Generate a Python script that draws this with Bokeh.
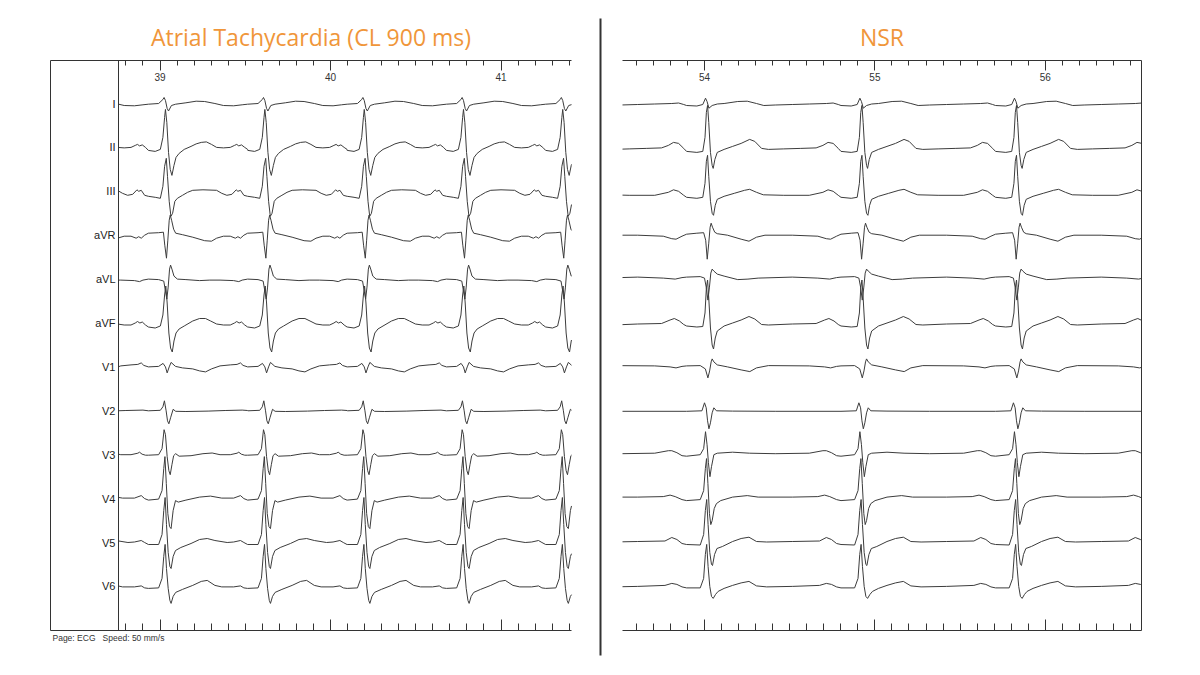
import numpy as np
from bokeh.plotting import figure
from bokeh.models import Range1d, LinearAxis, FixedTicker, Label
from bokeh.embed import file_html
from bokeh.resources import INLINE

# ---------------- data ----------------
leads = ["I", "II", "III", "aVR", "aVL", "aVF", "V1", "V2", "V3", "V4", "V5", "V6"]

# R-peak times (s) (first one precedes the visible window)
at_beats = [38.450, 39.032, 39.615, 40.198, 40.780, 41.362]
nsr_beats = [53.108, 54.015, 54.921, 55.828]

at_tick_labels = [39, 40, 41]
nsr_tick_labels = [54, 55, 56]

# beat templates: (ms from R peak, amplitude in reference pixels, up = positive)
AT_I = [(-100, -0.7), (-40, 0), (-15, 4), (-8, 6), (0, 3), (10, -5), (18, -7.5), (35, -2), (60, -0.7),
        (120, 0.7), (180, 2.3), (230, 2), (290, 0), (340, -2), (400, -2.3), (450, -1.3), (482, -0.7)]
AT_II = [(-100, -3), (-60, -4), (-30, -2), (-15, 10), (-5, 30), (0, 38), (8, 25), (18, -5), (28, -22),
         (38, -28), (50, -18), (62, -10), (80, -6), (110, -2), (150, 1), (180, 3.5), (210, 5), (240, 5.5),
         (270, 3), (300, 0), (340, -0.5), (380, 0), (405, 2), (418, 3), (430, 1.5), (446, 2.5), (465, 0),
         (482, -2)]
AT_III = [(-100, -5), (-60, -6), (-30, -7), (-15, 5), (-5, 25), (5, 33), (12, 15), (22, -10), (32, -25),
          (42, -22), (55, -10), (70, -7), (100, -4), (130, -1), (160, 1), (220, 1.5), (300, 1), (330, -2),
          (360, -4), (390, -3), (415, 1.5), (425, 0), (440, 1), (460, -4), (482, -5)]
AT_aVR = [(-100, 2), (-40, 2.5), (-12, 3), (-4, -10), (6, -23), (14, -5), (22, 15), (28, 20), (36, 15),
          (48, 6), (60, 2), (100, 0.5), (160, -2), (230, -5.5), (270, -6), (300, -3), (340, -1), (380, -1),
          (410, -3), (425, -1.5), (440, -3), (460, 0), (482, 2)]
AT_aVL = [(-100, 0), (-40, -0.5), (-10, -2), (0, -12), (8, -20), (16, -8), (24, 10), (30, 14), (38, 10),
          (50, 3), (70, 0), (120, -0.5), (200, -1.5), (260, -1), (320, -1), (400, -1.5), (430, -2.5),
          (450, -1), (482, 0)]
AT_aVF = [(-100, -4), (-60, -5), (-30, -3), (-15, 8), (-5, 28), (2, 37), (10, 20), (20, -10), (30, -25),
          (40, -29), (50, -18), (62, -10), (80, -6), (110, -3), (160, 2), (200, 4.5), (235, 4.5), (265, 2),
          (300, -1), (340, -2), (380, -2), (405, 0), (418, 1.5), (432, 0), (446, 1), (465, -2), (482, -4)]
AT_V1 = [(-100, 0), (-40, 0.5), (-14, 3.5), (0, 0), (10, -6), (22, 0), (33, 4.5), (59, 0.5), (100, -1),
         (160, -2), (200, -4), (235, -5), (270, -2), (320, 1), (380, 2), (420, 2.5), (440, 4), (455, 1.5),
         (482, 0)]
AT_V2 = [(-100, 0), (-30, 0.5), (-15, 4), (-6, 10), (4, 0), (12, -10), (20, -13), (30, -7), (45, 1.5),
         (60, -0.5), (120, -0.7), (250, -0.3), (350, 0.3), (450, 0.7), (482, 0.3)]
AT_V3 = [(-100, -0.5), (-40, 0), (-20, 6), (-8, 25), (0, 20), (10, -2), (20, -16), (28, -20), (38, -10),
         (48, -1), (60, 1), (80, -1.5), (150, -1), (220, 1), (274, 1.7), (320, 0), (380, 0), (420, 1.5),
         (430, 2.5), (445, 0.5), (465, -0.5), (482, -0.5)]
AT_V4 = [(-100, -1.5), (-40, -0.5), (-20, 8), (-10, 30), (-3, 42), (5, 15), (14, -15), (24, -28), (33, -30),
         (45, -12), (59, -2), (75, -3.5), (120, -1.5), (200, 1.5), (264, 2.5), (330, 0.5), (400, 0.5),
         (440, 3), (460, 0), (482, -1.5)]
AT_V5 = [(-100, -2), (-40, -2), (-20, 8), (-10, 32), (-2, 45), (6, 18), (16, -10), (26, -24), (33, -26),
         (45, -14), (59, -8), (90, -5), (150, -1), (200, 3), (245, 4), (290, 2), (362, 0), (400, 0.5),
         (440, 2), (460, 0), (482, -2)]
AT_V6 = [(-100, -2), (-40, -1.5), (-20, 8), (-10, 30), (-2, 42), (6, 18), (16, -2), (26, -14), (33, -17),
         (45, -10), (60, -6), (100, -3), (160, 1), (210, 5), (245, 6), (290, 1), (330, -0.5), (400, -0.5),
         (440, 0.5), (460, -1.5), (482, -2)]

NSR_I = [(-120, -2), (-60, -2.5), (-25, -1), (-9, 5.3), (0, 2), (11, -4.7), (30, -2), (60, -0.5), (100, 0),
         (180, 2), (236, 2.3), (290, 0), (333, -2), (400, -1.5), (500, -1), (600, -0.5), (700, 0),
         (740, 0.5), (770, -1), (787, -2)]
NSR_II = [(-120, -4), (-60, -5), (-25, -4), (-12, 10), (-4, 35), (3, 42), (10, 25), (20, -5), (30, -18),
          (36, -21), (46, -12), (60, -5), (100, -2), (150, 1), (200, 4), (250, 8), (280, 6), (320, -1),
          (360, -2), (450, -1.5), (550, -1), (640, -0.5), (680, 2), (710, 5), (740, 4), (770, -1), (787, -4)]
NSR_III = [(-120, -6), (-60, -7), (-25, -6), (-12, 8), (-4, 30), (3, 36), (10, 15), (20, -10), (30, -22),
           (38, -24), (48, -14), (60, -8), (100, -5), (160, -2), (220, 1), (250, 2), (290, -1), (330, -3.5),
           (450, -4), (600, -4), (680, -1), (710, 1.5), (740, 0), (770, -4), (787, -6)]
NSR_aVR = [(-120, 1), (-60, 2), (-20, 2.5), (-8, -5), (1, -24), (10, -8), (18, 8), (24, 12), (32, 8),
           (45, 3), (60, 1.5), (120, 0), (200, -4), (246, -6), (290, -2), (340, 0), (500, 0), (650, -1),
           (700, -3.5), (725, -4), (760, -1), (787, 1)]
NSR_aVL = [(-120, 2), (-40, 2.5), (-15, 1), (-5, -8), (5, -21), (14, -8), (22, 6), (30, 10), (40, 8),
           (60, 5), (100, 3), (180, -0.5), (240, 0), (300, 1), (500, 2), (650, 1), (720, 0), (760, 1.5),
           (787, 2)]
NSR_aVF = [(-120, -3), (-60, -4), (-25, -3.5), (-12, 10), (-4, 35), (3, 43), (10, 25), (20, -5), (30, -22),
           (38, -26), (48, -15), (60, -8), (100, -3), (150, 0), (200, 3), (246, 6.5), (280, 4), (320, -1.5),
           (360, -2), (500, -1), (640, -0.5), (690, 3), (715, 4.5), (745, 2), (770, -1.5), (787, -3)]
NSR_V1 = [(-120, 1), (-40, 1.3), (-10, -2), (5, -11), (15, -4), (24, 5), (30, 8), (40, 5), (60, 2),
          (120, 0), (200, -3), (251, -4.7), (290, -1), (360, 1.3), (600, 1), (690, 0), (725, -1),
          (760, 0.5), (787, 1)]
NSR_V2 = [(-120, -0.5), (-30, 0), (-15, 8), (-5, 3), (3, -10), (11, -18), (20, -12), (30, -2), (40, 3),
          (55, 0), (150, -0.3), (400, -0.5), (787, -0.5)]
NSR_V3 = [(-120, -1.5), (-40, 0), (-20, 6), (-9, 23), (0, 10), (8, -8), (17, -22), (26, -12), (40, 0),
          (60, 1.5), (150, 2.5), (250, 1.5), (400, 1), (600, 1.5), (680, 4), (700, 4), (730, 2), (760, -1),
          (787, -1.5)]
NSR_V4 = [(-120, -2), (-40, -1), (-20, 8), (-10, 30), (-3, 40), (5, 15), (14, -15), (22, -26), (30, -22),
          (42, -10), (55, -5), (80, -2), (150, 1.5), (236, 3), (300, 1.5), (500, 1.5), (650, 2), (690, 3.5),
          (720, 2), (760, -1), (787, -2)]
NSR_V5 = [(-120, -2), (-40, -2.5), (-20, 8), (-10, 32), (-2, 43), (6, 18), (16, -10), (26, -22), (32, -23),
          (44, -12), (58, -6), (90, -4), (150, 1), (200, 4), (246, 5.3), (290, 1), (350, 0.5), (500, 1),
          (660, 1.5), (700, 5), (730, 3), (760, -1), (787, -2)]
NSR_V6 = [(-120, -1.5), (-40, -1.5), (-20, 8), (-10, 32), (-2, 42), (6, 20), (16, 0), (26, -10), (36, -12),
          (50, -8), (65, -5), (100, -2), (150, 1), (200, 3.5), (246, 5), (290, 0.5), (350, -0.5), (500, 0),
          (660, 1), (700, 3), (730, 2), (760, -0.5), (787, -1.5)]

at_templates = [AT_I, AT_II, AT_III, AT_aVR, AT_aVL, AT_aVF, AT_V1, AT_V2, AT_V3, AT_V4, AT_V5, AT_V6]
nsr_templates = [NSR_I, NSR_II, NSR_III, NSR_aVR, NSR_aVL, NSR_aVF, NSR_V1, NSR_V2, NSR_V3, NSR_V4, NSR_V5, NSR_V6]

# ---------------- layout helpers (reference pixel -> data) ----------------
PX_PER_S = 170.5
ROW_PX = 43.9
W, H = 1184, 659


def tx(xpix):      # left panel time axis
    return 39 + (xpix - 159.5) / PX_PER_S


def tn(xpix):      # right panel time axis
    return 54 + (xpix - 704.0) / 170.4


def py(ypix):      # rows: lead k baseline at -k
    return (103.0 - ypix) / ROW_PX


INK = "#333333"
TRACE = "#3c3c3c"
ORANGE = "#F0963A"

p = figure(width=W, height=H, x_range=Range1d(tx(0), tx(W)), y_range=Range1d(py(H), py(0)),
           x_axis_location=None, y_axis_location=None, toolbar_location=None, output_backend="svg",
           min_border=0, title=None, outline_line_color=None, background_fill_color="white",
           border_fill_color="white")
p.extra_x_ranges = {"nsr": Range1d(tn(0), tn(W))}
p.xgrid.visible = False
p.ygrid.visible = False

AT_LO, AT_HI = tx(118), tx(571)
NSR_LO, NSR_HI = tn(622), tn(1141)


def build_trace(beats, template, lo, hi):
    dts = np.array([k[0] for k in template], dtype=float) / 1000.0
    amps = np.array([k[1] for k in template], dtype=float)
    ts, ys = [], []
    for i, b in enumerate(beats):
        t = b + dts
        keep = t < beats[i + 1] + dts[0] if i + 1 < len(beats) else np.ones(len(t), bool)
        ts.append(t[keep])
        ys.append(amps[keep])
    t = np.concatenate(ts)
    y = np.concatenate(ys)
    inside = (t > lo) & (t < hi)
    t_out = np.concatenate([[lo], t[inside], [hi]])
    y_out = np.concatenate([[np.interp(lo, t, y)], y[inside], [np.interp(hi, t, y)]])
    return t_out, y_out


for k, name in enumerate(leads):
    t, a = build_trace(at_beats, at_templates[k], AT_LO, AT_HI)
    p.line(t, -k + a / ROW_PX, line_color=TRACE, line_width=1)
    t, a = build_trace(nsr_beats, nsr_templates[k], NSR_LO, NSR_HI)
    p.line(t, -k + a / ROW_PX, line_color=TRACE, line_width=1, x_range_name="nsr")


# ---------------- axes ----------------
def ticks_between(a, b, step, skip_step=None):
    vals = np.round(np.arange(a, b + step / 2, step), 2)
    if skip_step is not None:
        vals = [v for v in vals if abs(v / skip_step - round(v / skip_step)) > 1e-6]
    return [float(v) for v in vals]


def h_axes(rng, lo, hi, t0, t1, majors):
    tenths = ticks_between(t0, t1, 0.1, 1.0)
    halves = [round(v + 0.05, 2) for v in ticks_between(t0 - 0.05, t1 - 0.05, 0.1)]
    for side, ypix, mj, mn, sh, show in (("below", 60, 10, 5, 3, True), ("above", 630, 11, 7, 4, False)):
        ax = LinearAxis(x_range_name=rng, fixed_location=py(ypix), bounds=(lo, hi),
                        ticker=FixedTicker(ticks=majors, minor_ticks=tenths),
                        major_tick_in=0, major_tick_out=mj, minor_tick_in=0, minor_tick_out=mn,
                        axis_line_color=INK, major_tick_line_color=INK, minor_tick_line_color=INK,
                        major_label_standoff=2, major_label_text_font="Liberation Sans",
                        major_label_text_font_size="10px",
                        major_label_text_color=INK if show else None)
        p.add_layout(ax, side)
        ax2 = LinearAxis(x_range_name=rng, fixed_location=py(ypix), bounds=(lo, hi),
                         ticker=FixedTicker(ticks=[], minor_ticks=halves),
                         major_tick_in=0, major_tick_out=0, minor_tick_in=0, minor_tick_out=sh,
                         axis_line_color=None, minor_tick_line_color=INK,
                         major_label_text_color=None)
        p.add_layout(ax2, side)


h_axes("default", tx(50), AT_HI, 38.8, 41.4, at_tick_labels)
h_axes("nsr", NSR_LO, NSR_HI, 53.6, 56.5, nsr_tick_labels)


def v_line(side, rng, xval, ylo, yhi, width=1, ticks=None, overrides=None):
    ax = LinearAxis(x_range_name=rng, fixed_location=xval, bounds=(ylo, yhi),
                    ticker=FixedTicker(ticks=ticks or [], minor_ticks=[]),
                    major_tick_in=0, major_tick_out=0, minor_tick_in=0, minor_tick_out=0,
                    axis_line_color=INK, axis_line_width=width,
                    major_label_standoff=3, major_label_text_font="Liberation Sans",
                    major_label_text_font_size="11px", major_label_text_color="#222222")
    if overrides:
        ax.major_label_overrides = overrides
    p.add_layout(ax, side)


v_line("left", "default", tx(50), py(630), py(60))
v_line("left", "default", AT_LO, py(630), py(60), ticks=[-k for k in range(len(leads))],
       overrides={-k: name for k, name in enumerate(leads)})
v_line("right", "nsr", NSR_HI, py(630), py(60))
v_line("left", "default", tx(600), py(655), py(18), width=2)

# ---------------- texts ----------------
p.add_layout(Label(x=(tx(50) + AT_HI) / 2, y=py(36), text="Atrial Tachycardia (CL 900 ms)",
                   text_align="center", text_baseline="middle", text_font="Open Sans",
                   text_font_size="23px", text_color=ORANGE))
p.add_layout(Label(x=(NSR_LO + NSR_HI) / 2, y=py(36), x_range_name="nsr", text="NSR",
                   text_align="center", text_baseline="middle", text_font="Open Sans",
                   text_font_size="23px", text_color=ORANGE))
p.add_layout(Label(x=tx(52), y=py(637), text="Page: ECG \u00a0 Speed: 50 mm/s",
                   text_align="left", text_baseline="middle", text_font="Liberation Sans",
                   text_font_size="8.5px", text_color=INK))

open("out.html", "w").write(file_html(p, INLINE))
